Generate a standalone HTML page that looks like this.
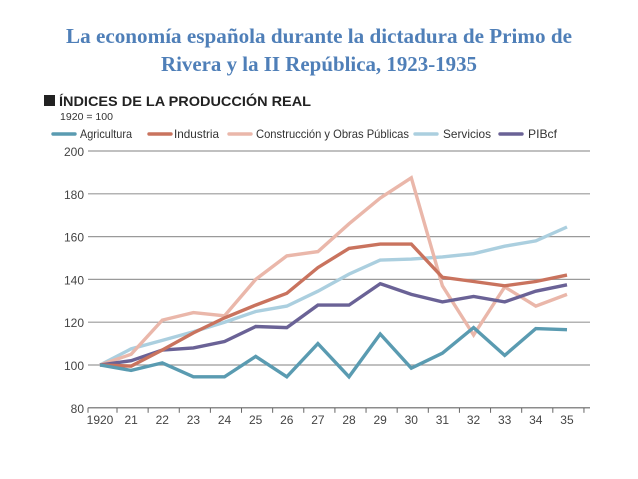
<!DOCTYPE html>
<html><head><meta charset="utf-8"><style>
html,body{margin:0;padding:0;background:#fff;width:638px;height:479px;overflow:hidden}
svg{display:block}
</style></head><body>
<svg id="chart" width="638" height="479" font-family="'Liberation Sans', sans-serif">
<text x="319" y="43" text-anchor="middle" font-family="'Liberation Serif', serif" font-weight="bold" font-size="21" fill="#4f7fb8" textLength="506" lengthAdjust="spacingAndGlyphs">La economía española durante la dictadura de Primo de</text>
<text x="319" y="71" text-anchor="middle" font-family="'Liberation Serif', serif" font-weight="bold" font-size="21" fill="#4f7fb8" textLength="316" lengthAdjust="spacingAndGlyphs">Rivera y la II República, 1923-1935</text>
<rect x="44" y="95" width="11" height="11" fill="#222"/>
<text x="59" y="106" font-size="14" font-weight="bold" fill="#222" textLength="252" lengthAdjust="spacingAndGlyphs">ÍNDICES DE LA PRODUCCIÓN REAL</text>
<text x="60" y="120" font-size="10" fill="#333" textLength="53" lengthAdjust="spacingAndGlyphs">1920 = 100</text>
<g id="legend"></g>
<g id="grid"></g>
<g id="series"></g>
<g id="axis"></g>
</svg>
<script>
const years = ["1920","21","22","23","24","25","26","27","28","29","30","31","32","33","34","35"];
const yTicks = [80,100,120,140,160,180,200];
const seriesNames = ["Agricultura","Industria","Construcción y Obras Públicas","Servicios","PIBcf"];
const agricultura = [100,97.5,101,94.5,94.5,104,94.5,110,94.5,114.5,98.5,105.5,117.5,104.5,117,116.5];
const industria = [100,99.5,107,115,122,128,133.5,145.5,154.5,156.5,156.5,141,139,137,139,142];
const construccion = [100,105,121,124.5,123,140,151,153,166,178,187.5,137,114,136.5,127.5,133];
const servicios = [100,107.5,111.5,115.5,120,125,127.5,134.5,142.5,149,149.5,150.5,152,155.5,158,164.5];
const pibcf = [100,102,107,108,111,118,117.5,128,128,138,133,129.5,132,129.5,134.5,137.5];

const NS="http://www.w3.org/2000/svg";
const colors=["#5a9bb1","#c9735e","#eab7aa","#abcfdf","#6a6296"];
const data=[agricultura,industria,construccion,servicios,pibcf];
function x(i){return 100+i*31.13;}
function y(v){return 365-(v-100)*2.14;}
function mk(tag,attrs,parent){const e=document.createElementNS(NS,tag);for(const k in attrs)e.setAttribute(k,attrs[k]);parent.appendChild(e);return e;}
const grid=document.getElementById('grid'),axis=document.getElementById('axis'),ser=document.getElementById('series'),leg=document.getElementById('legend');
yTicks.forEach(t=>{
  if(t>80){const l=mk('line',{x1:88,x2:590,y1:y(t),y2:y(t),stroke:'#9a9a9a','stroke-width':1.2},grid);
  
  }
  const tx=mk('text',{x:84,y:y(t)+5,'text-anchor':'end','font-size':12,fill:'#444'},axis);tx.textContent=t;
  
  
});
const base=mk('line',{x1:88,x2:590,y1:y(80),y2:y(80),stroke:'#666','stroke-width':1.2},axis);


years.forEach((yr,i)=>{
  const tx=mk('text',{x:x(i),y:424,'text-anchor':'middle','font-size':12,fill:'#444'},axis);tx.textContent=yr;
  
  
  const tk=mk('line',{x1:x(i)+17,x2:x(i)+17,y1:y(80),y2:y(80)+5,stroke:'#666','stroke-width':1},axis);
  
  
});
const t0=mk('line',{x1:88,x2:88,y1:y(80),y2:y(80)+5,stroke:'#666','stroke-width':1},axis);


const order=[3,2,4,1,0];
order.forEach(s=>{
  const pts=data[s].map((v,i)=>x(i).toFixed(1)+','+y(v).toFixed(1)).join(' ');
  const pl=mk('polyline',{points:pts,fill:'none',stroke:colors[s],'stroke-width':3.4,'stroke-linejoin':'miter'},ser);
  
  
});
const legX=[53,149,229,415,500];
const legTextX=[80,174,256,443,528];
const legTextW=[52,45,153,48,29];
seriesNames.forEach((n,i)=>{
  const g=mk('g',{},leg);
  
  
  mk('line',{x1:legX[i],x2:legX[i]+22,y1:134,y2:134,stroke:colors[i],'stroke-width':3.4,'stroke-linecap':'round'},g);
  const t=mk('text',{x:legTextX[i],y:138,'font-size':12,fill:'#333',textLength:legTextW[i],lengthAdjust:'spacingAndGlyphs'},g);t.textContent=n;
});
</script>
</body></html>
